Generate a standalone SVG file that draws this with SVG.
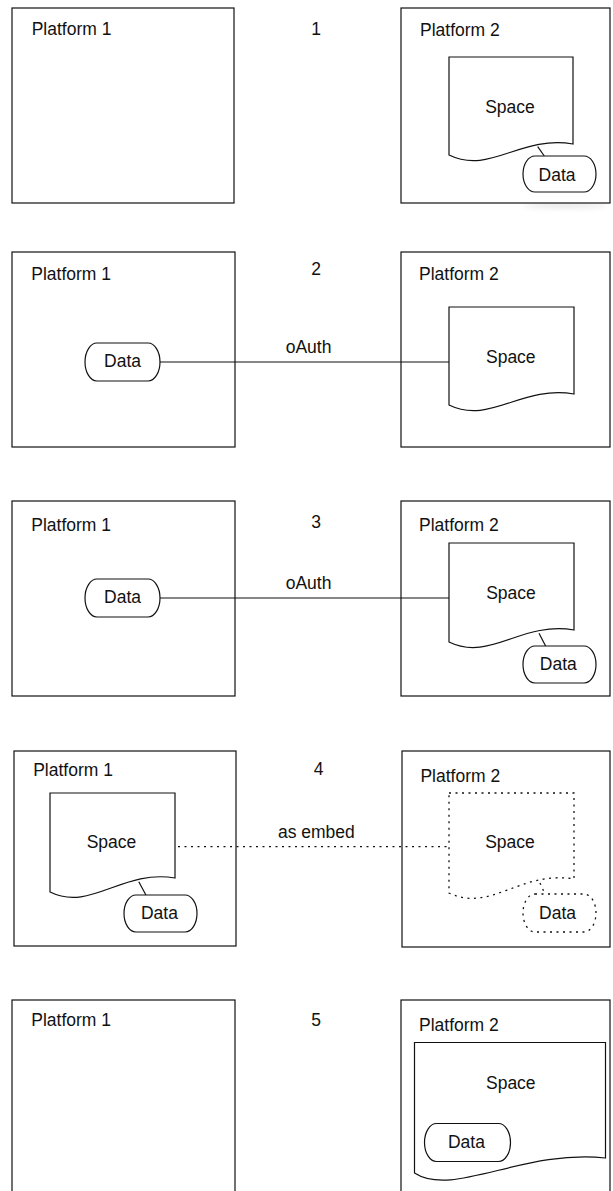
<svg xmlns="http://www.w3.org/2000/svg" width="613" height="1191" viewBox="0 0 613 1191">
<defs>
<style>
.box{fill:#fff;stroke:#111;stroke-width:1.2}
.shape{fill:#fff;stroke:#111;stroke-width:1.2}
.dot{fill:#fff;stroke:#111;stroke-width:1.3;stroke-dasharray:2 4.5}
.line{fill:none;stroke:#111;stroke-width:1.2}
.dline{fill:none;stroke:#111;stroke-width:1.3;stroke-dasharray:2 4.5}
text{font-family:"Liberation Sans",Arial,Helvetica,sans-serif;font-size:17.5px;fill:#111}
.m{text-anchor:middle}
</style>
<filter id="blur" x="-50%" y="-300%" width="200%" height="700%"><feGaussianBlur stdDeviation="3"/></filter>
</defs>
<rect width="613" height="1191" fill="#fff"/>

<!-- Panel 1 -->
<ellipse cx="565" cy="205" rx="42" ry="2.5" fill="#000" opacity="0.12" filter="url(#blur)"/>
<g id="p1-platform1"><rect class="box" x="12" y="8" width="222" height="195"/><text x="31.7" y="35">Platform 1</text></g>
<g id="p1-step"><text class="m" x="316" y="35">1</text></g>
<g id="p1-platform2"><rect class="box" x="401" y="8" width="209" height="195"/><text x="420" y="35.7">Platform 2</text></g>
<g id="p1-space"><path class="shape" d="M449,57 H573 V144 C520,135 490,175 449,155 Z"/><text class="m" x="510" y="112.7">Space</text></g>
<g id="p1-data"><rect class="shape" x="523" y="156" width="73" height="36" rx="12" ry="18"/><text class="m" x="557" y="181">Data</text></g>

<!-- Panel 2 -->
<g id="p2-platform1"><rect class="box" x="12" y="252" width="223" height="195"/><text x="31.3" y="280">Platform 1</text></g>
<g id="p2-step"><text class="m" x="316" y="275">2</text></g>
<g id="p2-platform2"><rect class="box" x="401" y="252" width="209" height="195"/><text x="419" y="280">Platform 2</text></g>
<g id="p2-data"><rect class="shape" x="85" y="343" width="75" height="38" rx="12" ry="19"/><text class="m" x="122.6" y="367.3">Data</text></g>
<g id="p2-space"><path class="shape" d="M449,307 H574 V394 C521,385 490,425 449,405 Z"/><text class="m" x="510.8" y="362.7">Space</text></g>

<!-- Panel 3 -->
<g id="p3-platform1"><rect class="box" x="12" y="501" width="223" height="195"/><text x="31.3" y="530.7">Platform 1</text></g>
<g id="p3-step"><text class="m" x="316" y="528.3">3</text></g>
<g id="p3-platform2"><rect class="box" x="401" y="501" width="209" height="195"/><text x="419" y="530.7">Platform 2</text></g>
<g id="p3-data1"><rect class="shape" x="85" y="579" width="75" height="38" rx="12" ry="19"/><text class="m" x="122.6" y="603.3">Data</text></g>
<g id="p3-space"><path class="shape" d="M449,543 H574 V630 C521,621 490,662 449,642 Z"/><text class="m" x="511" y="599">Space</text></g>
<g id="p3-data2"><rect class="shape" x="523" y="646" width="73" height="37" rx="12" ry="18.5"/><text class="m" x="558.3" y="670">Data</text></g>

<!-- Panel 4 -->
<g id="p4-platform1"><rect class="box" x="14" y="751" width="222" height="195"/><text x="33.2" y="776">Platform 1</text></g>
<g id="p4-step"><text class="m" x="318.7" y="775">4</text></g>
<g id="p4-platform2"><rect class="box" x="402" y="751" width="208" height="196"/><text x="420.4" y="781.7">Platform 2</text></g>
<g id="p4-space1"><path class="shape" d="M50,793 H175 V878 C122,869 91,912 50,892 Z"/><text class="m" x="111.5" y="848.3">Space</text></g>
<g id="p4-data1"><rect class="shape" x="124" y="895" width="73" height="37" rx="12" ry="18.5"/><text class="m" x="159.4" y="919.3">Data</text></g>
<g id="p4-space2"><path class="dot" d="M449,793 H574 V879 C521,870 490,913 449,893 Z"/><text class="m" x="510" y="848">Space</text></g>
<g id="p4-data2"><rect class="dot" x="523" y="894" width="73" height="38" rx="12" ry="19"/><text class="m" x="557.5" y="919.3">Data</text></g>

<!-- Panel 5 -->
<g id="p5-platform1"><rect class="box" x="12" y="1000" width="223" height="195"/><text x="31.3" y="1026">Platform 1</text></g>
<g id="p5-step"><text class="m" x="316" y="1025.7">5</text></g>
<g id="p5-platform2"><rect class="box" x="401" y="1000" width="209" height="195"/><text x="419" y="1030.7">Platform 2</text></g>
<g id="p5-space"><path class="shape" d="M414.5,1042.5 H605.5 V1158 C523,1149 453,1198 414.5,1173 Z"/><text class="m" x="510.8" y="1088.5">Space</text></g>
<g id="p5-data"><rect class="shape" x="424.5" y="1123.5" width="86" height="38" rx="12" ry="19"/><text class="m" x="466.4" y="1148">Data</text></g>

<!-- Connectors -->
<g id="connectors">
<line class="line" x1="537.7" y1="146.7" x2="544.3" y2="156"/>
<line class="line" x1="160" y1="362" x2="449" y2="362"/>
<text class="m" x="308.6" y="353.3">oAuth</text>
<line class="line" x1="160" y1="598" x2="449" y2="598"/>
<text class="m" x="308.6" y="589.3">oAuth</text>
<line class="line" x1="539" y1="633.3" x2="545.6" y2="646"/>
<line class="dline" x1="178" y1="846.7" x2="449" y2="846.7"/>
<text class="m" x="316.4" y="838.3">as embed</text>
<line class="line" x1="138.8" y1="881.7" x2="145.9" y2="895"/>
<line class="dline" x1="540" y1="883" x2="545" y2="894"/>
</g>
</svg>
